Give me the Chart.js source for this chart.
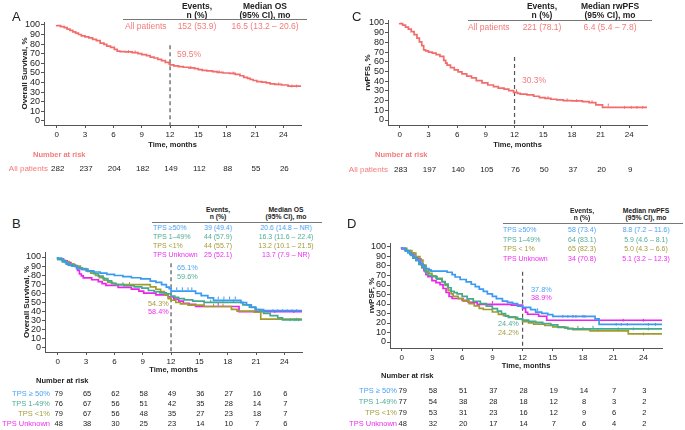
<!DOCTYPE html>
<html>
<head>
<meta charset="utf-8">
<script src="https://cdn.jsdelivr.net/npm/chart.js@4.4.0/dist/chart.umd.min.js"></script>
<style>
  body { margin: 0; width: 685px; height: 430px; position: relative; background: #fff; overflow: hidden;
         font-family: "Liberation Sans", Arial, sans-serif; }
  canvas { position: absolute; }
  .t { position: absolute; white-space: nowrap; line-height: 1; }
  .rule { position: absolute; height: 0; border-top: 1px solid #777; }
</style>
</head>
<body>
<script>
// ---- data ----
const months = [0, 3, 6, 9, 12, 15, 18, 21, 24];
const pctTicks = [0, 10, 20, 30, 40, 50, 60, 70, 80, 90, 100];

// A: overall survival, all patients
const osAllT = [0, 0.4, 0.8, 1.1, 1.4, 1.7, 2.0, 2.3, 2.6, 3.0, 3.4, 3.8, 4.2, 4.6, 5.0, 5.3, 5.7, 6.1, 6.4, 6.7, 7.3, 8.0, 8.6, 9.0, 9.5, 9.9, 10.3, 10.7, 11.1, 11.5, 11.9, 12.0, 12.4, 12.9, 13.4, 14.0, 14.6, 15.0, 15.4, 15.9, 16.5, 17.0, 17.6, 18.3, 18.9, 19.4, 19.8, 20.2, 20.5, 20.8, 21.2, 21.7, 22.2, 22.6, 23.1, 23.8, 24.5, 24.7, 25.9];
const osAllS = [100, 99.3, 98.2, 97.2, 95.7, 94.3, 92.9, 91.5, 90.1, 88.7, 87.6, 86.5, 85.1, 83.7, 81.2, 79.8, 78.0, 76.6, 74.5, 72.7, 72.3, 72.0, 71.2, 70.2, 69.1, 68.1, 66.6, 65.6, 64.2, 62.8, 61.0, 59.5, 58.4, 57.4, 56.7, 56.0, 55.3, 54.6, 53.5, 52.8, 52.1, 51.4, 50.7, 50.0, 49.6, 48.5, 47.1, 45.5, 44.3, 43.2, 42.2, 41.1, 40.4, 39.6, 38.6, 38.2, 37.5, 36.4, 36.4];
const osAllC = [7.6, 8.3, 14.2, 17.2, 18.7, 23.5, 24.9, 25.4];

// C: rwPFS, all patients
const pfsAllT = [0, 0.3, 0.6, 0.9, 1.2, 1.5, 1.8, 2.05, 2.3, 2.5, 2.7, 3.0, 3.4, 3.8, 4.2, 4.6, 4.8, 4.95, 5.3, 5.7, 6.1, 6.5, 7.0, 7.5, 8.0, 8.6, 9.2, 9.8, 10.3, 10.9, 11.4, 11.9, 12.3, 12.6, 13.3, 14.0, 14.6, 15.2, 15.8, 16.4, 17.1, 18.0, 19.1, 19.8, 20.5, 21.2, 22.9, 25.9];
const pfsAllS = [100, 99.3, 97.9, 95.8, 93.6, 91.2, 88.0, 84.5, 80.6, 76.7, 72.4, 71.3, 70.0, 68.9, 67.5, 65.5, 61.5, 58.6, 56.5, 54.0, 51.7, 49.6, 47.5, 45.2, 43.5, 40.7, 38.2, 36.1, 34.4, 32.8, 31.8, 30.3, 28.5, 27.4, 26.7, 25.9, 24.5, 23.1, 22.3, 21.4, 20.7, 20.0, 19.7, 18.9, 17.9, 15.5, 13.1, 13.1];
const pfsAllC = [12.2, 15.5, 17.5, 18.5, 20.1, 21.8, 23.5, 24.2, 24.8, 25.4];

// B: overall survival by TPS
const osHiT = [0, 0.4, 0.8, 1.1, 1.5, 2.0, 2.6, 3.1, 3.8, 4.5, 5.2, 6.0, 6.9, 7.8, 8.8, 9.8, 10.4, 11.0, 11.5, 11.8, 12.0, 14.6, 15.2, 15.9, 16.5, 19.4, 20.0, 20.5, 21.0, 21.8, 22.4, 25.9];
const osHiS = [100, 98.7, 96.2, 93.7, 91.1, 89.9, 87.3, 86.1, 84.8, 83.5, 82.3, 81.0, 79.7, 78.5, 77.2, 75.9, 73.4, 72.1, 69.6, 67.0, 65.1, 62.6, 60.0, 57.5, 55.0, 52.4, 49.8, 47.3, 44.7, 42.2, 41.0, 41.0];
const osHiC = [12.6, 13.2, 13.8, 14.2, 17.0, 17.6, 18.2, 18.8, 22.8, 23.3, 23.8, 24.3, 24.8, 25.3];
const osMidT = [0, 0.5, 0.9, 1.3, 2.0, 2.6, 3.2, 3.8, 4.3, 4.8, 5.3, 5.7, 6.1, 7.0, 8.1, 8.9, 9.6, 10.2, 10.8, 11.5, 12.0, 12.4, 12.8, 13.4, 14.3, 15.5, 19.6, 20.3, 20.9, 21.4, 21.8, 22.5, 23.3, 23.8, 24.1, 25.9];
const osMidS = [100, 97.4, 94.7, 92.1, 90.8, 88.2, 86.8, 84.2, 81.6, 78.9, 76.3, 73.7, 71.1, 69.7, 68.4, 67.1, 65.8, 63.2, 61.8, 60.5, 59.6, 57.0, 55.6, 54.2, 52.9, 51.6, 50.2, 47.5, 44.9, 42.1, 40.5, 38.0, 35.5, 33.0, 31.0, 31.0];
const osMidC = [16.2, 17.5, 18.6, 24.6, 25.1, 25.5];
const osLowT = [0, 0.6, 1.2, 1.7, 2.4, 3.0, 3.5, 4.0, 4.4, 4.9, 5.3, 5.8, 6.2, 9.8, 10.4, 10.9, 11.3, 11.7, 12.0, 12.5, 13.0, 13.8, 15.5, 18.4, 19.0, 20.8, 21.5, 24.8, 25.9];
const osLowS = [100, 97.5, 94.9, 92.4, 89.9, 87.3, 84.8, 82.3, 79.7, 77.2, 74.7, 72.2, 70.9, 69.6, 67.1, 64.5, 62.0, 58.2, 54.3, 52.5, 50.0, 48.5, 47.2, 45.6, 42.4, 40.5, 39.3, 31.7, 31.7];
const osLowC = [6.9, 7.6, 16.5, 17.5, 25.3];
const osUnkT = [0, 0.6, 1.0, 1.4, 1.8, 2.1, 2.3, 2.5, 2.7, 3.6, 4.3, 4.7, 5.1, 6.4, 7.8, 8.6, 9.1, 10.4, 11.7, 12.3, 12.8, 13.3, 13.9, 14.6, 19.2, 19.5, 25.9];
const osUnkS = [100, 97.9, 95.8, 93.8, 91.7, 89.6, 85.4, 81.3, 79.2, 77.1, 75.0, 72.9, 70.8, 68.8, 66.7, 64.6, 62.5, 60.4, 58.4, 56.1, 53.8, 51.5, 49.2, 48.0, 45.6, 40.0, 40.0];
const osUnkC = [15.5, 17.0, 21.0, 23.0, 25.0];

// D: rwPFS by TPS
const pfsHiT = [0, 0.3, 0.6, 0.9, 1.2, 1.5, 1.8, 2.1, 2.4, 2.7, 2.9, 4.5, 5.0, 5.3, 5.8, 6.4, 6.9, 7.3, 7.7, 8.1, 8.5, 9.0, 9.4, 10.0, 10.5, 11.0, 11.5, 12.0, 12.8, 13.3, 13.9, 14.5, 15.0, 15.4, 19.2, 19.6, 20.6, 25.9];
const pfsHiS = [100, 98.7, 96.2, 93.7, 91.1, 88.6, 86.1, 82.3, 79.7, 77.2, 75.9, 74.7, 73.4, 70.9, 68.4, 65.8, 63.3, 60.8, 58.2, 55.7, 53.2, 50.6, 48.1, 45.6, 43.0, 41.8, 40.5, 37.8, 36.5, 34.0, 31.5, 30.2, 28.9, 26.9, 26.9, 24.3, 18.6, 18.6];
const pfsHiC = [13.5, 16.5, 17.3, 18.2, 21.3, 21.8, 22.4, 24.5, 25.2];
const pfsMidT = [0, 0.4, 0.8, 1.1, 1.4, 1.7, 2.0, 2.3, 2.6, 3.0, 3.5, 4.0, 4.3, 4.6, 4.9, 5.2, 5.5, 6.0, 6.5, 7.1, 7.8, 8.4, 9.0, 9.5, 9.9, 10.3, 10.6, 11.5, 12.0, 12.6, 13.3, 14.0, 14.8, 15.5, 16.5, 20.5, 25.9];
const pfsMidS = [100, 98.7, 96.1, 92.2, 88.3, 85.7, 81.8, 78.0, 74.0, 70.1, 68.8, 66.2, 63.6, 61.0, 57.1, 53.2, 52.0, 50.6, 48.1, 45.5, 42.9, 40.3, 37.7, 35.1, 32.5, 29.9, 27.3, 26.0, 24.4, 23.1, 21.8, 20.6, 19.4, 18.1, 15.5, 13.8, 13.8];
const pfsMidC = [17.5, 19.0, 21.5, 23.0, 24.5];
const pfsLowT = [0, 0.5, 1.0, 1.4, 1.8, 2.1, 2.4, 2.7, 3.0, 3.4, 4.0, 4.3, 4.6, 4.9, 5.1, 5.6, 6.1, 6.7, 7.2, 7.7, 8.1, 9.0, 9.6, 10.1, 10.6, 11.3, 12.0, 12.6, 13.1, 14.2, 15.0, 16.2, 17.0, 18.7, 22.5, 23.0, 25.9];
const pfsLowS = [100, 98.7, 96.2, 93.7, 90.0, 86.1, 81.0, 75.9, 72.2, 69.6, 67.1, 63.3, 59.5, 54.4, 50.6, 48.1, 45.6, 43.0, 40.5, 38.0, 35.4, 34.2, 31.6, 29.1, 27.8, 26.6, 24.2, 21.5, 20.2, 18.9, 17.4, 16.0, 14.5, 13.0, 11.8, 8.6, 8.6];
const pfsLowC = [18.0, 19.5, 24.0];
const pfsUnkT = [0, 0.4, 0.8, 1.2, 1.6, 1.9, 2.2, 2.4, 2.6, 3.0, 3.4, 3.8, 4.1, 4.4, 4.7, 5.0, 6.0, 6.6, 7.5, 10.9, 12.0, 12.3, 12.5, 13.6, 14.4, 19.0, 25.9];
const pfsUnkS = [100, 97.9, 95.8, 93.8, 89.6, 87.5, 81.3, 75.0, 70.8, 68.8, 64.6, 62.5, 60.4, 56.3, 52.1, 47.9, 45.8, 43.8, 41.7, 39.6, 38.9, 35.4, 31.3, 29.2, 27.1, 22.9, 22.9];
const pfsUnkC = [9.0, 16.0, 17.0, 18.0, 22.0, 24.0];

// number at risk
const riskOsAll = [282, 237, 204, 182, 149, 112, 88, 55, 26];
const riskPfsAll = [283, 197, 140, 105, 76, 50, 37, 20, 9];
const riskOsHi = [79, 65, 62, 58, 49, 36, 27, 16, 6];
const riskOsMid = [76, 67, 56, 51, 42, 35, 28, 14, 7];
const riskOsLow = [79, 67, 56, 48, 35, 27, 23, 18, 7];
const riskOsUnk = [48, 38, 30, 25, 23, 14, 10, 7, 6];
const riskPfsHi = [79, 58, 51, 37, 28, 19, 14, 7, 3];
const riskPfsMid = [77, 54, 38, 28, 18, 12, 8, 3, 2];
const riskPfsLow = [79, 53, 31, 23, 16, 12, 9, 6, 2];
const riskPfsUnk = [48, 32, 20, 17, 14, 7, 6, 4, 2];

// summary tables
const osGroups = ['TPS ≥50%', 'TPS 1–49%', 'TPS <1%', 'TPS Unknown'];
const osEvents = ['39 (49.4)', '44 (57.9)', '44 (55.7)', '25 (52.1)'];
const osMedian = ['20.6 (14.8 – NR)', '16.3 (11.6 – 22.4)', '13.2 (10.1 – 21.5)', '13.7 (7.9 – NR)'];
const pfsGroups = ['TPS ≥50%', 'TPS 1–49%', 'TPS < 1%', 'TPS Unknown'];
const pfsEvents = ['58 (73.4)', '64 (83.1)', '65 (82.3)', '34 (70.8)'];
const pfsMedian = ['8.8 (7.2 – 11.6)', '5.9 (4.6 – 8.1)', '5.0 (4.3 – 6.6)', '5.1 (3.2 – 12.3)'];
const riskGroups = ['TPS ≥ 50%', 'TPS 1-49%', 'TPS <1%', 'TPS Unknown'];

const salmon = '#f26c6c', salmonTxt = '#f47a7a';
const blue = '#3b9af2', teal = '#42aa8e', olive = '#a39b2e', magenta = '#ee22ee';
const blueTxt = '#4aa3f5', tealTxt = '#4fae95', oliveTxt = '#a39c3a', magentaTxt = '#ee30ee';
const groupTxt = [blueTxt, tealTxt, oliveTxt, magentaTxt];

Chart.defaults.font.family = '"Liberation Sans", Arial, sans-serif';
Chart.defaults.color = '#222';

function txt(x, y, s, o = {}) {
  const d = document.createElement('div');
  d.className = 't';
  d.textContent = s;
  d.style.left = x + 'px';
  d.style.top = y + 'px';
  d.style.fontSize = (o.size || 8) + 'px';
  if (o.bold) d.style.fontWeight = 'bold';
  d.style.color = o.color || '#222';
  const tx = o.a === 'c' ? '-50%' : o.a === 'r' ? '-100%' : '0';
  d.style.transform = 'translate(' + tx + ',-50%)';
  document.body.appendChild(d);
}

function rule(x1, x2, y) {
  const d = document.createElement('div');
  d.className = 'rule';
  d.style.left = x1 + 'px';
  d.style.width = (x2 - x1) + 'px';
  d.style.top = y + 'px';
  document.body.appendChild(d);
}

function km(ts, ss) {
  return ts.map((t, i) => ({ x: t, y: ss[i] }));
}

// survival value in force at a censoring time
function atTime(ts, ss, c) {
  let v = ss[0];
  ts.forEach((t, i) => { if (t <= c) v = ss[i]; });
  return v;
}

function panel(p) {
  const c = document.createElement('canvas');
  c.width = p.w;
  c.height = p.h;
  c.style.left = p.left + 'px';
  c.style.top = p.top + 'px';
  document.body.appendChild(c);

  const datasets = [];
  p.series.forEach(s => {
    datasets.push({
      data: km(s.t, s.s), borderColor: s.color, borderWidth: 1.7,
      stepped: 'after', pointRadius: 0, fill: false
    });
    datasets.push({
      data: s.c.map(c => ({ x: c, y: atTime(s.t, s.s, c) })),
      showLine: false, borderColor: s.color, borderWidth: 1,
      pointStyle: 'line', rotation: 90, pointRadius: 1.4
    });
  });
  datasets.push({
    data: [{ x: 12, y: p.dashTop }, { x: 12, y: p.yMin }],
    borderColor: '#555', borderWidth: 1.2, borderDash: [4, 3], pointRadius: 0
  });

  return new Chart(c, {
    type: 'line',
    data: { datasets },
    options: {
      responsive: false,
      animation: false,
      devicePixelRatio: 1,
      layout: { padding: { top: p.padTop, left: 0, right: 0, bottom: 0 } },
      plugins: { legend: { display: false }, tooltip: { enabled: false } },
      scales: {
        x: {
          type: 'linear', min: p.xMin, max: p.xMax,
          afterBuildTicks: s => { s.ticks = months.map(v => ({ value: v })); },
          afterFit: s => { s.height = p.xh; },
          ticks: { font: { size: 8 }, color: '#222', padding: 2, maxRotation: 0, autoSkip: false },
          grid: { drawOnChartArea: false, tickLength: 3, color: '#555' },
          border: { color: '#555' },
          title: { display: true, text: 'Time, months', color: '#222',
                   font: { size: 7.5, weight: 'bold' }, padding: { top: 0, bottom: 4 } }
        },
        y: {
          type: 'linear', min: p.yMin, max: p.yMax,
          afterBuildTicks: s => { s.ticks = pctTicks.map(v => ({ value: v })); },
          afterFit: s => { s.width = p.yw; },
          ticks: { font: { size: 9 }, color: '#222', padding: 1, autoSkip: false },
          grid: { drawOnChartArea: false, tickLength: 3, color: '#555' },
          border: { color: '#555' },
          title: { display: true, text: p.yTitle, color: '#222',
                   font: { size: 8, weight: 'bold' }, padding: { top: p.yTitlePad, bottom: 0 } }
        }
      }
    }
  });
}

function riskRows(chart, left, rows, y0, dy, size) {
  const xs = chart.scales.x;
  rows.forEach((vals, r) => {
    vals.forEach((v, i) => {
      txt(left + xs.getPixelForValue(months[i]) + 1, y0 + r * dy, String(v), { a: 'c', size });
    });
  });
}

// ---- panel A ----
const chA = panel({
  left: 0, top: 0, w: 306, h: 153, padTop: 22, yw: 44, xh: 28,
  xMin: -1.35, xMax: 25.87, yMin: -4.17, yMax: 103.1, dashTop: 79,
  yTitle: 'Overall Survival, %', yTitlePad: 20,
  series: [{ t: osAllT, s: osAllS, c: osAllC, color: salmon }]
});
txt(12, 16, 'A', { size: 13 });
txt(197, 6, 'Events,', { a: 'c', bold: true, size: 8.5 });
txt(197, 15, 'n (%)', { a: 'c', bold: true, size: 8.5 });
txt(265, 6, 'Median OS', { a: 'c', bold: true, size: 8.5 });
txt(265, 15, '(95% CI), mo', { a: 'c', bold: true, size: 8.5 });
rule(123, 307, 19);
txt(125, 26, 'All patients', { color: salmonTxt, size: 8.5 });
txt(197, 26, '152 (53.9)', { a: 'c', color: salmonTxt, size: 8.5 });
txt(265, 26, '16.5 (13.2 – 20.6)', { a: 'c', color: salmonTxt, size: 8.5 });
txt(177, 54, '59.5%', { color: salmonTxt, size: 8.5 });
txt(33, 155, 'Number at risk', { bold: true, color: salmonTxt, size: 7.5 });
txt(48, 169, 'All patients', { a: 'r', color: salmonTxt, size: 8 });
riskRows(chA, 0, [riskOsAll], 169, 0, 8);

// ---- panel C ----
const chC = panel({
  left: 340, top: 0, w: 312, h: 153, padTop: 20, yw: 48, xh: 28,
  xMin: -1.23, xMax: 25.85, yMin: -5.15, yMax: 103.1, dashTop: 65,
  yTitle: 'rwPFS, %', yTitlePad: 23,
  series: [{ t: pfsAllT, s: pfsAllS, c: pfsAllC, color: salmon }]
});
txt(352, 16, 'C', { size: 13 });
txt(542, 6, 'Events,', { a: 'c', bold: true, size: 8.5 });
txt(542, 15, 'n (%)', { a: 'c', bold: true, size: 8.5 });
txt(610, 6, 'Median rwPFS', { a: 'c', bold: true, size: 8.5 });
txt(610, 15, '(95% CI), mo', { a: 'c', bold: true, size: 8.5 });
rule(468, 652, 20);
txt(468, 27, 'All patients', { color: salmonTxt, size: 8.5 });
txt(542, 27, '221 (78.1)', { a: 'c', color: salmonTxt, size: 8.5 });
txt(610, 27, '6.4 (5.4 – 7.8)', { a: 'c', color: salmonTxt, size: 8.5 });
txt(522, 80, '30.3%', { color: salmonTxt, size: 8.5 });
txt(375, 155, 'Number at risk', { bold: true, color: salmonTxt, size: 7.5 });
txt(388, 170, 'All patients', { a: 'r', color: salmonTxt, size: 8 });
riskRows(chC, 340, [riskPfsAll], 170, 0, 8);

// ---- panel B ----
const chB = panel({
  left: 0, top: 240, w: 307, h: 138, padTop: 12, yw: 45, xh: 26,
  xMin: -1.35, xMax: 25.87, yMin: -4.4, yMax: 105.5, dashTop: 93,
  yTitle: 'Overall Survival, %', yTitlePad: 22,
  series: [
    { t: osHiT, s: osHiS, c: osHiC, color: blue },
    { t: osMidT, s: osMidS, c: osMidC, color: teal },
    { t: osLowT, s: osLowS, c: osLowC, color: olive },
    { t: osUnkT, s: osUnkS, c: osUnkC, color: magenta }
  ]
});
txt(12, 223, 'B', { size: 13 });
txt(218, 210, 'Events,', { a: 'c', bold: true, size: 6.8 });
txt(218, 217, 'n (%)', { a: 'c', bold: true, size: 6.8 });
txt(286, 210, 'Median OS', { a: 'c', bold: true, size: 6.8 });
txt(286, 217, '(95% CI), mo', { a: 'c', bold: true, size: 6.8 });
rule(152, 322, 222);
osGroups.forEach((g, i) => {
  const y = 227 + i * 9;
  txt(153, y, g, { color: groupTxt[i], size: 7 });
  txt(218, y, osEvents[i], { a: 'c', color: groupTxt[i], size: 7 });
  txt(286, y, osMedian[i], { a: 'c', color: groupTxt[i], size: 7 });
});
txt(177, 268, '65.1%', { color: blueTxt, size: 7.3 });
txt(177, 277, '59.6%', { color: tealTxt, size: 7.3 });
txt(148, 304, '54.3%', { color: oliveTxt, size: 7.3 });
txt(148, 312, '58.4%', { color: magentaTxt, size: 7.3 });
txt(36, 381, 'Number at risk', { bold: true, size: 7.5 });
riskGroups.forEach((g, i) => txt(50, 394 + i * 10, g, { a: 'r', color: groupTxt[i], size: 7.5 }));
riskRows(chB, 0, [riskOsHi, riskOsMid, riskOsLow, riskOsUnk], 394, 10, 7.5);

// ---- panel D ----
const chD = panel({
  left: 340, top: 235, w: 327, h: 139, padTop: 8, yw: 50, xh: 26,
  xMin: -1.17, xMax: 25.85, yMin: -6.3, yMax: 104.2, dashTop: 74,
  yTitle: 'rwPSF, %', yTitlePad: 27,
  series: [
    { t: pfsHiT, s: pfsHiS, c: pfsHiC, color: blue },
    { t: pfsMidT, s: pfsMidS, c: pfsMidC, color: teal },
    { t: pfsLowT, s: pfsLowS, c: pfsLowC, color: olive },
    { t: pfsUnkT, s: pfsUnkS, c: pfsUnkC, color: magenta }
  ]
});
txt(347, 223, 'D', { size: 13 });
txt(582, 211, 'Events,', { a: 'c', bold: true, size: 6.8 });
txt(582, 218, 'n (%)', { a: 'c', bold: true, size: 6.8 });
txt(646, 211, 'Median rwPFS', { a: 'c', bold: true, size: 6.8 });
txt(646, 218, '(95% CI), mo', { a: 'c', bold: true, size: 6.8 });
rule(503, 683, 223);
pfsGroups.forEach((g, i) => {
  const y = 229 + i * 9.5;
  txt(503, y, g, { color: groupTxt[i], size: 7 });
  txt(582, y, pfsEvents[i], { a: 'c', color: groupTxt[i], size: 7 });
  txt(646, y, pfsMedian[i], { a: 'c', color: groupTxt[i], size: 7 });
});
txt(531, 290, '37.8%', { color: blueTxt, size: 7.3 });
txt(531, 298, '38.9%', { color: magentaTxt, size: 7.3 });
txt(498, 324, '24.4%', { color: tealTxt, size: 7.3 });
txt(498, 333, '24.2%', { color: oliveTxt, size: 7.3 });
txt(381, 376, 'Number at risk', { bold: true, size: 7.5 });
riskGroups.forEach((g, i) => txt(397, 391 + i * 11, g, { a: 'r', color: groupTxt[i], size: 7.5 }));
riskRows(chD, 340, [riskPfsHi, riskPfsMid, riskPfsLow, riskPfsUnk], 391, 11, 7.5);
</script>
</body>
</html>
